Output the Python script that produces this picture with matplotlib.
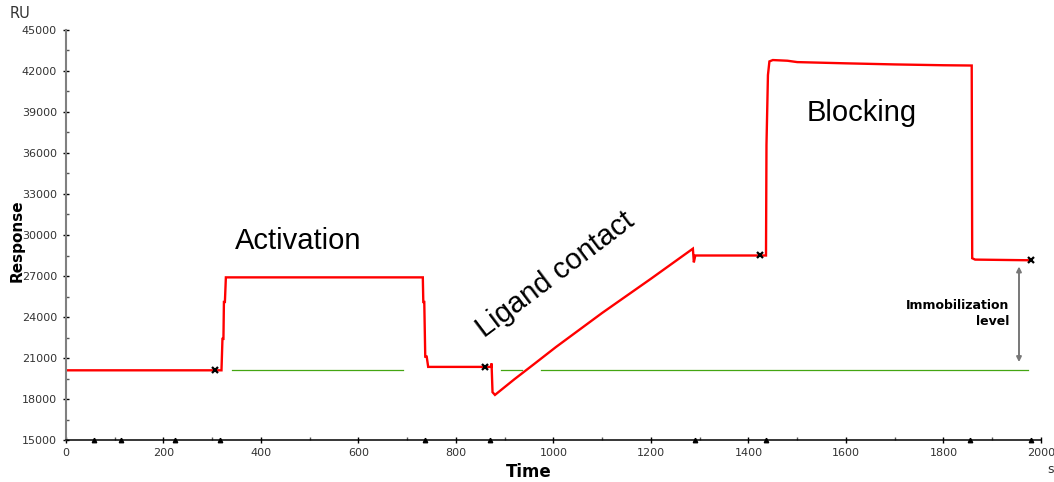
import matplotlib
matplotlib.use("Agg")
import matplotlib.pyplot as plt
from matplotlib.ticker import MultipleLocator

# Sensorgram: time (s) vs response (RU)
time_s = [0, 319, 321, 323, 324, 326, 328, 732, 733, 735, 737, 740, 743,
          872, 873, 875, 880, 920, 960, 1005, 1100, 1200, 1286, 1288, 1291,
          1436, 1437, 1440, 1443, 1450, 1480, 1500, 1600, 1700, 1800, 1858,
          1859, 1865, 1980]
response_ru = [20100, 20100, 22400, 22400, 25100, 25100, 26900, 26900, 25100,
               25100, 21100, 21100, 20350, 20350, 20600, 18500, 18300, 19450,
               20550, 21800, 24300, 26800, 29000, 28000, 28500, 28500, 36600,
               41700, 42700, 42800, 42750, 42650, 42560, 42480, 42420, 42400,
               28300, 28200, 28150]

# baseline reference segments (start, end)
baseline_ru = 20100
baseline_segments = [(340, 691), (892, 935), (974, 1973)]

# report points and injection markers
report_t = [305, 859, 1424, 1979]
report_ru = [20100, 20340, 28540, 28170]
event_t = [57, 113, 224, 316, 736, 870, 1290, 1436, 1854, 1980]

# immobilization level arrow
immob_t = 1955
immob_lo = 20700
immob_hi = 27700

fig = plt.figure(figsize=(10.54, 4.82), dpi=100)
ax = fig.add_axes([0.0626, 0.0871, 0.925, 0.8507])

for t0, t1 in baseline_segments:
    ax.plot([t0, t1], [baseline_ru, baseline_ru], color="#44a512", lw=0.9)

ax.plot(time_s, response_ru, color="#ff0000", lw=1.7, solid_joinstyle="miter")
ax.plot(report_t, report_ru, "x", color="black", ms=5, mew=1.6)
ax.plot(event_t, [15000] * len(event_t), "^", color="black", ms=3.2,
        clip_on=False, zorder=5)

ax.annotate("", xy=(immob_t, immob_hi), xytext=(immob_t, immob_lo),
            arrowprops=dict(arrowstyle="<|-|>", color="#777777", lw=1.4,
                            mutation_scale=7, shrinkA=0, shrinkB=0))
ax.text(1936, 24220, "Immobilization\nlevel", ha="right", va="center",
        fontsize=9, fontweight="bold", family="DejaVu Sans",
        multialignment="right", linespacing=1.3)

ax.text(476, 29560, "Activation", fontsize=21, family="Liberation Sans",
        ha="center", va="center")
ax.text(1633, 38950, "Blocking", fontsize=21, family="Liberation Sans",
        ha="center", va="center")
ax.text(1003, 27100, "Ligand contact", fontsize=21, family="Liberation Sans",
        ha="center", va="center", rotation=37, rotation_mode="anchor")

ax.set_xlim(0, 2000)
ax.set_ylim(15000, 45000)
ax.xaxis.set_major_locator(MultipleLocator(200))
ax.xaxis.set_minor_locator(MultipleLocator(100))
ax.yaxis.set_major_locator(MultipleLocator(3000))
ax.yaxis.set_minor_locator(MultipleLocator(1500))

ax.spines["top"].set_visible(False)
ax.spines["right"].set_visible(False)
ax.spines["left"].set_color("#808080")
ax.spines["left"].set_linewidth(1.5)
ax.spines["bottom"].set_color("black")
ax.spines["bottom"].set_linewidth(1.1)

ax.tick_params(which="major", direction="inout", length=5, width=1,
               labelsize=8, labelcolor="#333333", color="black")
ax.tick_params(which="minor", direction="in", length=2.5, width=1,
               color="#555555")
ax.tick_params(axis="y", pad=4)
ax.tick_params(axis="x", pad=3)
for lab in ax.get_xticklabels() + ax.get_yticklabels():
    lab.set_family("DejaVu Sans")

fig.text(0.502, 0.021, "Time", ha="center", va="center", fontsize=12,
         fontweight="bold", family="DejaVu Sans")
fig.text(0.016, 0.5, "Response", ha="center", va="center", fontsize=11,
         fontweight="bold", family="DejaVu Sans", rotation=90)
fig.text(0.009, 0.972, "RU", ha="left", va="center", fontsize=10.5,
         family="DejaVu Sans", color="#333333")
fig.text(0.994, 0.025, "s", ha="left", va="center", fontsize=9,
         family="DejaVu Sans", color="#333333")

fig.savefig("out.png", dpi=100)
